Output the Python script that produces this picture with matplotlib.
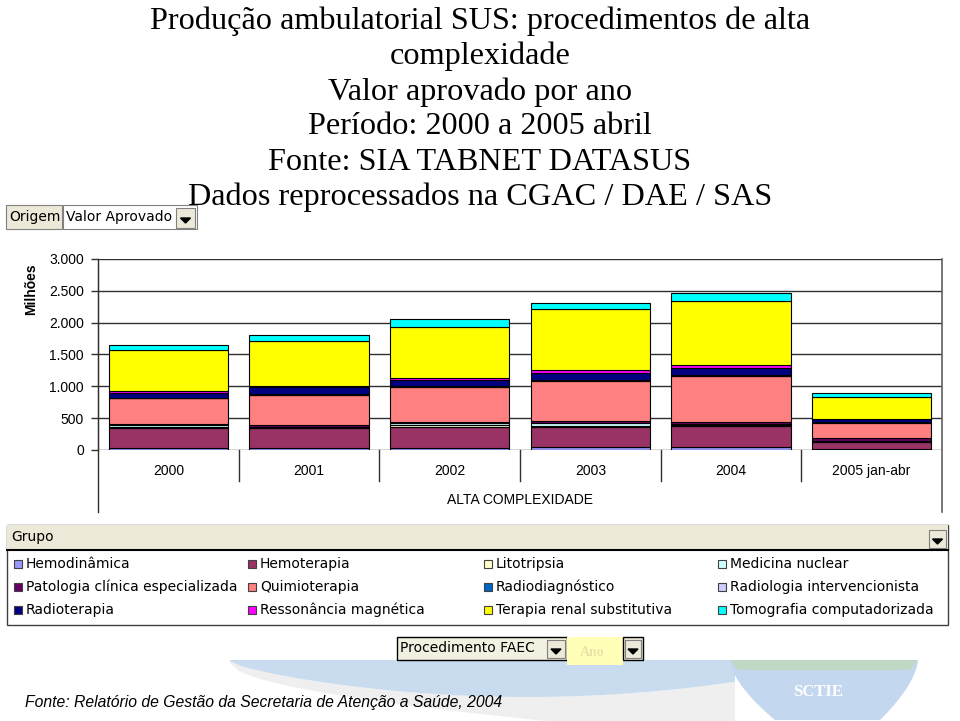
import matplotlib
matplotlib.use('Agg')
import matplotlib.pyplot as plt
from matplotlib.patches import Rectangle, Polygon
from matplotlib.lines import Line2D
from matplotlib.transforms import blended_transform_factory
import numpy as np

W, H = 960, 721

# ---- data (valor aprovado, milhões R$) ----
anos = ['2000', '2001', '2002', '2003', '2004', '2005 jan-abr']
grupos = ['Hemodinâmica', 'Hemoterapia', 'Litotripsia', 'Medicina nuclear',
          'Patologia clínica especializada', 'Quimioterapia', 'Radiodiagnóstico',
          'Radiologia intervencionista', 'Radioterapia', 'Ressonância magnética',
          'Terapia renal substitutiva', 'Tomografia computadorizada']
hemodinamica = [27, 27, 27, 50, 50, 10]
hemoterapia = [314, 314, 339, 314, 325, 118]
litotripsia = [15, 12, 20, 20, 15, 5]
medicina_nuclear = [35, 15, 45, 40, 25, 10]
patologia = [10, 25, 15, 25, 30, 38]
quimioterapia = [410, 471, 545, 640, 717, 250]
radiodiagnostico = [5, 5, 5, 5, 5, 2]
radiologia_interv = [5, 5, 5, 5, 5, 2]
radioterapia = [80, 120, 100, 105, 120, 50]
ressonancia = [20, 10, 36, 53, 42, 8]
terapia_renal = [644, 707, 801, 950, 1010, 340]
tomografia = [83, 89, 121, 104, 116, 63]
yticks = [0, 500, 1000, 1500, 2000, 2500, 3000]
ytick_labels = ['0', '500', '1.000', '1.500', '2.000', '2.500', '3.000']

series = [hemodinamica, hemoterapia, litotripsia, medicina_nuclear, patologia,
          quimioterapia, radiodiagnostico, radiologia_interv, radioterapia,
          ressonancia, terapia_renal, tomografia]
cores = ['#9999FF', '#993366', '#FFFFCC', '#CCFFFF', '#660066', '#FF8080',
         '#0066CC', '#CCCCFF', '#000080', '#FF00FF', '#FFFF00', '#00FFFF']

titulo = ['Produção ambulatorial SUS: procedimentos de alta', 'complexidade',
          'Valor aprovado por ano', 'Período: 2000 a 2005 abril',
          'Fonte: SIA TABNET DATASUS', 'Dados reprocessados na CGAC / DAE / SAS']

plt.rcParams['font.family'] = ['Liberation Sans', 'DejaVu Sans']

fig = plt.figure(figsize=(W / 100, H / 100), dpi=100)
fig.patch.set_facecolor('white')
TF = fig.transFigure


def P(x, y):
    return (x / W, 1 - y / H)


def rect(x0, y0, x1, y1, **kw):
    r = Rectangle(P(x0, y1), (x1 - x0) / W, (y1 - y0) / H, transform=TF, **kw)
    fig.add_artist(r)
    return r


def line(x0, y0, x1, y1, **kw):
    (a, b), (c, d) = P(x0, y0), P(x1, y1)
    fig.add_artist(Line2D([a, c], [b, d], transform=TF, **kw))


def poly(pts, **kw):
    fig.add_artist(Polygon([P(a, b) for a, b in pts], closed=True, transform=TF,
                           edgecolor='none', zorder=0, **kw))


def arrow_btn(x0, y0, x1, y1):
    rect(x0, y0, x1, y1, facecolor='#ECE9D8', edgecolor='#808080', lw=0.8)
    cx, cy = (x0 + x1) / 2, (y0 + y1) / 2 + 2
    fig.add_artist(Polygon([P(cx - 5, cy - 2), P(cx + 5, cy - 2), P(cx, cy + 3)],
                           closed=True, transform=TF, facecolor='black', edgecolor='black'))


# ---- background swoosh (decoration) ----
xs = np.linspace(230, 735, 60)
t = (xs - 230) / 505
band = 661 + 36 * np.sin(np.pi * t * 0.85) ** 0.7
shadow = np.minimum(663 + 75 * t ** 0.55, 721)
poly(list(zip(xs, band)) + list(zip(xs[::-1], shadow[::-1])), facecolor='#EFEFEF')
poly([(230, 660), (735, 660)] + list(zip(xs[::-1], band[::-1])), facecolor='#C9DCEF')
s = np.linspace(0, 1, 20)
left = list(zip(730 + 45 * s ** 1.6, 660 + 60 * s))
right = list(zip(918 - 38 * s ** 1.6, 660 + 60 * s))
poly(left + right[::-1], facecolor='#C3D7EE')
poly([(730, 660), (918, 660), (910, 670), (738, 670)], facecolor='#BFD9C4')

# ---- title ----
ys = [21, 56, 92, 127, 162, 197]
for t_, y in zip(titulo, ys):
    fig.text(480 / W, 1 - y / H, t_, ha='center', va='center', fontsize=23.2,
             family='Liberation Serif')

# ---- Origem / Valor Aprovado buttons ----
rect(6, 205, 62, 229, facecolor='#ECE9D8', edgecolor='#808080', lw=0.8)
fig.text(*P(9, 217), 'Origem', fontsize=10, va='center', family='DejaVu Sans')
rect(63, 205, 197, 229, facecolor='white', edgecolor='#808080', lw=0.8)
fig.text(*P(66, 217), 'Valor Aprovado', fontsize=10, va='center', family='DejaVu Sans')
arrow_btn(176, 208, 195, 228)

# ---- chart ----
ax = fig.add_axes([98 / W, 1 - 450 / H, 844 / W, 191 / H])
x = np.arange(len(anos))
bottom = np.zeros(len(anos))
for nome, vals, c in zip(grupos, series, cores):
    ax.bar(x, vals, bottom=bottom, width=0.846, color=c, edgecolor='black',
           linewidth=0.8, label=nome, zorder=3)
    bottom += np.array(vals)
ax.set_xlim(-0.5, 5.5)
ax.set_ylim(0, 3000)
ax.set_yticks(yticks)
ax.set_yticklabels(ytick_labels, fontsize=10)
ax.yaxis.grid(True, color='#303030', linewidth=1, zorder=0)
ax.set_xticks([])
ax.tick_params(axis='y', length=5, width=1, pad=5, color='#303030')
for s_ in ['top', 'right', 'bottom']:
    ax.spines[s_].set_visible(False)
ax.spines['left'].set_color('#303030')
ax.set_facecolor('none')

bt = blended_transform_factory(ax.transData, ax.transAxes)
for i, a in enumerate(anos):
    ax.text(i, -21 / 191, a, transform=bt, ha='center', va='center', fontsize=10)
for b in np.arange(0.5, 5.5, 1):
    ax.add_line(Line2D([b, b], [0, -31 / 191], transform=bt, color='#303030', lw=1, clip_on=False))
ax.text(0.5, -50 / 191, 'ALTA COMPLEXIDADE', transform=ax.transAxes, ha='center',
        va='center', fontsize=10)
line(98, 259, 98, 512, color='#303030', lw=1)
line(942, 259, 942, 512, color='#606060', lw=1.2)
fig.text(*P(31, 289), 'Milhões', rotation=90, fontsize=10, fontweight='bold',
         ha='center', va='center')

# ---- legend panel ----
rect(7, 525, 948, 625, facecolor='white', edgecolor='#404040', lw=1)
rect(7, 525, 948, 550, facecolor='#ECE9D8', edgecolor='none')
line(7, 550, 948, 550, color='black', lw=1.5)
fig.text(*P(11, 537), 'Grupo', fontsize=10, va='center', family='DejaVu Sans')
arrow_btn(929, 530, 946, 548)
colx = [14, 248, 484, 718]
rowy = [564, 587, 610]
for k, (nome, c) in enumerate(zip(grupos, cores)):
    r, col = divmod(k, 4)
    rect(colx[col], rowy[r] - 4, colx[col] + 8, rowy[r] + 4, facecolor=c,
         edgecolor='#404040', lw=0.8)
    fig.text(*P(colx[col] + 12, rowy[r]), nome, fontsize=10, va='center',
             family='DejaVu Sans')

# ---- Procedimento / Ano buttons ----
rect(397, 637, 567, 660, facecolor='#F2F0E0', edgecolor='black', lw=1)
fig.text(*P(400, 648), 'Procedimento FAEC', fontsize=10, va='center', family='DejaVu Sans')
arrow_btn(547, 640, 565, 658)
rect(567, 637, 623, 665, facecolor='#FFFFB8', edgecolor='none')
fig.text(*P(592, 652), 'Ano', fontsize=10, fontweight='bold', color='#E8E4A8',
         ha='center', va='center', family='Liberation Serif')
rect(623, 637, 643, 660, facecolor='#ECE9D8', edgecolor='black', lw=1)
arrow_btn(625, 640, 641, 658)

fig.text(*P(818, 692), 'SCTIE', fontsize=12, fontweight='bold', color='white',
         ha='center', va='center', family='Liberation Serif')
fig.text(*P(25, 703), 'Fonte: Relatório de Gestão da Secretaria de Atenção a Saúde, 2004',
         fontsize=11.3, style='italic', va='center')

fig.savefig('out.png', dpi=100)
